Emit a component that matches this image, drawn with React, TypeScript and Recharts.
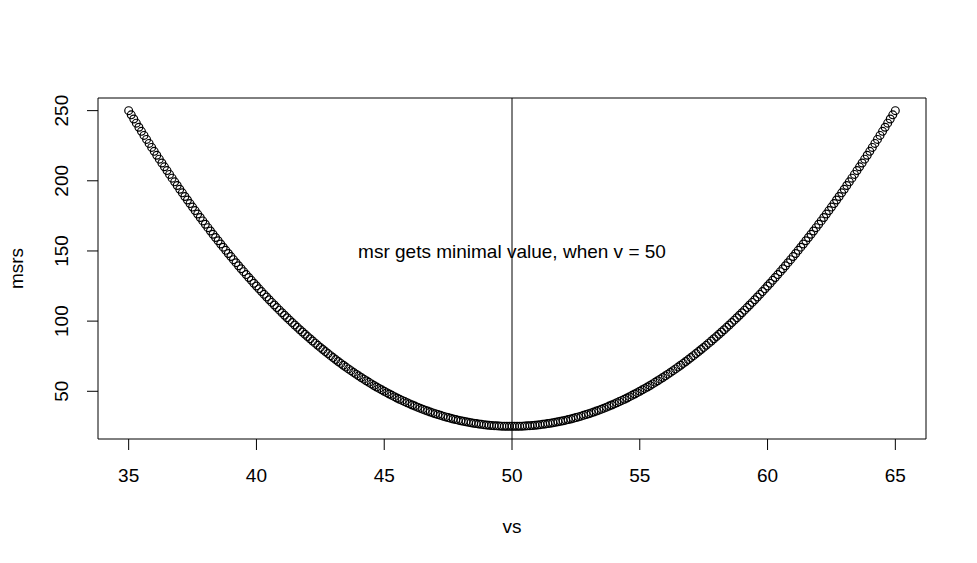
import { ScatterChart, Scatter, XAxis, YAxis, ReferenceLine, ReferenceArea, ReferenceDot } from "recharts";

const vs = [
  35, 35.1, 35.2, 35.3, 35.4, 35.5, 35.6, 35.7, 35.8, 35.9,
  36, 36.1, 36.2, 36.3, 36.4, 36.5, 36.6, 36.7, 36.8, 36.9,
  37, 37.1, 37.2, 37.3, 37.4, 37.5, 37.6, 37.7, 37.8, 37.9,
  38, 38.1, 38.2, 38.3, 38.4, 38.5, 38.6, 38.7, 38.8, 38.9,
  39, 39.1, 39.2, 39.3, 39.4, 39.5, 39.6, 39.7, 39.8, 39.9,
  40, 40.1, 40.2, 40.3, 40.4, 40.5, 40.6, 40.7, 40.8, 40.9,
  41, 41.1, 41.2, 41.3, 41.4, 41.5, 41.6, 41.7, 41.8, 41.9,
  42, 42.1, 42.2, 42.3, 42.4, 42.5, 42.6, 42.7, 42.8, 42.9,
  43, 43.1, 43.2, 43.3, 43.4, 43.5, 43.6, 43.7, 43.8, 43.9,
  44, 44.1, 44.2, 44.3, 44.4, 44.5, 44.6, 44.7, 44.8, 44.9,
  45, 45.1, 45.2, 45.3, 45.4, 45.5, 45.6, 45.7, 45.8, 45.9,
  46, 46.1, 46.2, 46.3, 46.4, 46.5, 46.6, 46.7, 46.8, 46.9,
  47, 47.1, 47.2, 47.3, 47.4, 47.5, 47.6, 47.7, 47.8, 47.9,
  48, 48.1, 48.2, 48.3, 48.4, 48.5, 48.6, 48.7, 48.8, 48.9,
  49, 49.1, 49.2, 49.3, 49.4, 49.5, 49.6, 49.7, 49.8, 49.9,
  50, 50.1, 50.2, 50.3, 50.4, 50.5, 50.6, 50.7, 50.8, 50.9,
  51, 51.1, 51.2, 51.3, 51.4, 51.5, 51.6, 51.7, 51.8, 51.9,
  52, 52.1, 52.2, 52.3, 52.4, 52.5, 52.6, 52.7, 52.8, 52.9,
  53, 53.1, 53.2, 53.3, 53.4, 53.5, 53.6, 53.7, 53.8, 53.9,
  54, 54.1, 54.2, 54.3, 54.4, 54.5, 54.6, 54.7, 54.8, 54.9,
  55, 55.1, 55.2, 55.3, 55.4, 55.5, 55.6, 55.7, 55.8, 55.9,
  56, 56.1, 56.2, 56.3, 56.4, 56.5, 56.6, 56.7, 56.8, 56.9,
  57, 57.1, 57.2, 57.3, 57.4, 57.5, 57.6, 57.7, 57.8, 57.9,
  58, 58.1, 58.2, 58.3, 58.4, 58.5, 58.6, 58.7, 58.8, 58.9,
  59, 59.1, 59.2, 59.3, 59.4, 59.5, 59.6, 59.7, 59.8, 59.9,
  60, 60.1, 60.2, 60.3, 60.4, 60.5, 60.6, 60.7, 60.8, 60.9,
  61, 61.1, 61.2, 61.3, 61.4, 61.5, 61.6, 61.7, 61.8, 61.9,
  62, 62.1, 62.2, 62.3, 62.4, 62.5, 62.6, 62.7, 62.8, 62.9,
  63, 63.1, 63.2, 63.3, 63.4, 63.5, 63.6, 63.7, 63.8, 63.9,
  64, 64.1, 64.2, 64.3, 64.4, 64.5, 64.6, 64.7, 64.8, 64.9,
  65,
];

const msrs = [
  250, 247.01, 244.04, 241.09, 238.16, 235.25, 232.36, 229.49, 226.64, 223.81,
  221, 218.21, 215.44, 212.69, 209.96, 207.25, 204.56, 201.89, 199.24, 196.61,
  194, 191.41, 188.84, 186.29, 183.76, 181.25, 178.76, 176.29, 173.84, 171.41,
  169, 166.61, 164.24, 161.89, 159.56, 157.25, 154.96, 152.69, 150.44, 148.21,
  146, 143.81, 141.64, 139.49, 137.36, 135.25, 133.16, 131.09, 129.04, 127.01,
  125, 123.01, 121.04, 119.09, 117.16, 115.25, 113.36, 111.49, 109.64, 107.81,
  106, 104.21, 102.44, 100.69, 98.96, 97.25, 95.56, 93.89, 92.24, 90.61,
  89, 87.41, 85.84, 84.29, 82.76, 81.25, 79.76, 78.29, 76.84, 75.41,
  74, 72.61, 71.24, 69.89, 68.56, 67.25, 65.96, 64.69, 63.44, 62.21,
  61, 59.81, 58.64, 57.49, 56.36, 55.25, 54.16, 53.09, 52.04, 51.01,
  50, 49.01, 48.04, 47.09, 46.16, 45.25, 44.36, 43.49, 42.64, 41.81,
  41, 40.21, 39.44, 38.69, 37.96, 37.25, 36.56, 35.89, 35.24, 34.61,
  34, 33.41, 32.84, 32.29, 31.76, 31.25, 30.76, 30.29, 29.84, 29.41,
  29, 28.61, 28.24, 27.89, 27.56, 27.25, 26.96, 26.69, 26.44, 26.21,
  26, 25.81, 25.64, 25.49, 25.36, 25.25, 25.16, 25.09, 25.04, 25.01,
  25, 25.01, 25.04, 25.09, 25.16, 25.25, 25.36, 25.49, 25.64, 25.81,
  26, 26.21, 26.44, 26.69, 26.96, 27.25, 27.56, 27.89, 28.24, 28.61,
  29, 29.41, 29.84, 30.29, 30.76, 31.25, 31.76, 32.29, 32.84, 33.41,
  34, 34.61, 35.24, 35.89, 36.56, 37.25, 37.96, 38.69, 39.44, 40.21,
  41, 41.81, 42.64, 43.49, 44.36, 45.25, 46.16, 47.09, 48.04, 49.01,
  50, 51.01, 52.04, 53.09, 54.16, 55.25, 56.36, 57.49, 58.64, 59.81,
  61, 62.21, 63.44, 64.69, 65.96, 67.25, 68.56, 69.89, 71.24, 72.61,
  74, 75.41, 76.84, 78.29, 79.76, 81.25, 82.76, 84.29, 85.84, 87.41,
  89, 90.61, 92.24, 93.89, 95.56, 97.25, 98.96, 100.69, 102.44, 104.21,
  106, 107.81, 109.64, 111.49, 113.36, 115.25, 117.16, 119.09, 121.04, 123.01,
  125, 127.01, 129.04, 131.09, 133.16, 135.25, 137.36, 139.49, 141.64, 143.81,
  146, 148.21, 150.44, 152.69, 154.96, 157.25, 159.56, 161.89, 164.24, 166.61,
  169, 171.41, 173.84, 176.29, 178.76, 181.25, 183.76, 186.29, 188.84, 191.41,
  194, 196.61, 199.24, 201.89, 204.56, 207.25, 209.96, 212.69, 215.44, 218.21,
  221, 223.81, 226.64, 229.49, 232.36, 235.25, 238.16, 241.09, 244.04, 247.01,
  250,
];

const xTicks = [35, 40, 45, 50, 55, 60, 65];
const yTicks = [50, 100, 150, 200, 250];
const xDomain: [number, number] = [33.8, 66.2];
const yDomain: [number, number] = [16, 259];
const minV = 50;
const noteY = 150;
const note = "msr gets minimal value, when v = 50";

const data = vs.map((v, i) => ({ v, msr: msrs[i] }));

const FONT = "'Liberation Sans', Arial, sans-serif";
const FS = 19;

const XTick = (props: any) => {
  const { x, y, payload } = props;
  return (
    <text x={x} y={y + 30} textAnchor="middle" fontSize={FS} fontFamily={FONT} fill="#000">
      {payload.value}
    </text>
  );
};

const YTick = (props: any) => {
  const { x, y, payload } = props;
  const bx = x - 17;
  return (
    <text
      x={bx}
      y={y}
      transform={`rotate(-90, ${bx}, ${y})`}
      textAnchor="middle"
      fontSize={FS}
      fontFamily={FONT}
      fill="#000"
    >
      {payload.value}
    </text>
  );
};

const Ring = (props: any) => (
  <circle cx={props.cx} cy={props.cy} r={3.9} fill="none" stroke="#000" strokeWidth={1.2} />
);

export default function App() {
  return (
    <div style={{ position: "absolute", left: 0, top: 0, background: "#fff" }}>
      <ScatterChart width={977} height={563} margin={{ top: 98, right: 51, left: 38, bottom: 74 }}>
        <XAxis
          type="number"
          dataKey="v"
          domain={xDomain}
          ticks={xTicks}
          allowDataOverflow
          axisLine={false}
          tickSize={11}
          tickLine={{ stroke: "#000", strokeWidth: 1 }}
          tick={<XTick />}
          height={50}
          label={{
            content: (p: any) => (
              <text
                x={p.viewBox.x + p.viewBox.width / 2}
                y={533}
                textAnchor="middle"
                fontSize={FS}
                fontFamily={FONT}
                fill="#000"
              >
                vs
              </text>
            ),
          }}
        />
        <YAxis
          type="number"
          dataKey="msr"
          domain={yDomain}
          ticks={yTicks}
          allowDataOverflow
          axisLine={false}
          tickSize={11}
          tickLine={{ stroke: "#000", strokeWidth: 1 }}
          tick={<YTick />}
          width={60}
          label={{
            content: (p: any) => {
              const cy = p.viewBox.y + p.viewBox.height / 2;
              return (
                <text
                  x={23}
                  y={cy}
                  transform={`rotate(-90, 23, ${cy})`}
                  textAnchor="middle"
                  fontSize={FS}
                  fontFamily={FONT}
                  fill="#000"
                >
                  msrs
                </text>
              );
            },
          }}
        />
        <ReferenceArea
          x1={xDomain[0]}
          x2={xDomain[1]}
          y1={yDomain[0]}
          y2={yDomain[1]}
          fill="none"
          fillOpacity={0}
          stroke="#000"
          strokeWidth={1}
          ifOverflow="visible"
        />
        <ReferenceLine x={minV} stroke="#000" strokeWidth={1} />
        <Scatter data={data} shape={<Ring />} isAnimationActive={false} />
        <ReferenceDot
          x={minV}
          y={noteY}
          r={0}
          shape={(p: any) => (
            <text
              x={p.cx}
              y={p.cy + 7}
              textAnchor="middle"
              fontSize={FS}
              fontFamily={FONT}
              fill="#000"
            >
              {note}
            </text>
          )}
        />
      </ScatterChart>
    </div>
  );
}
